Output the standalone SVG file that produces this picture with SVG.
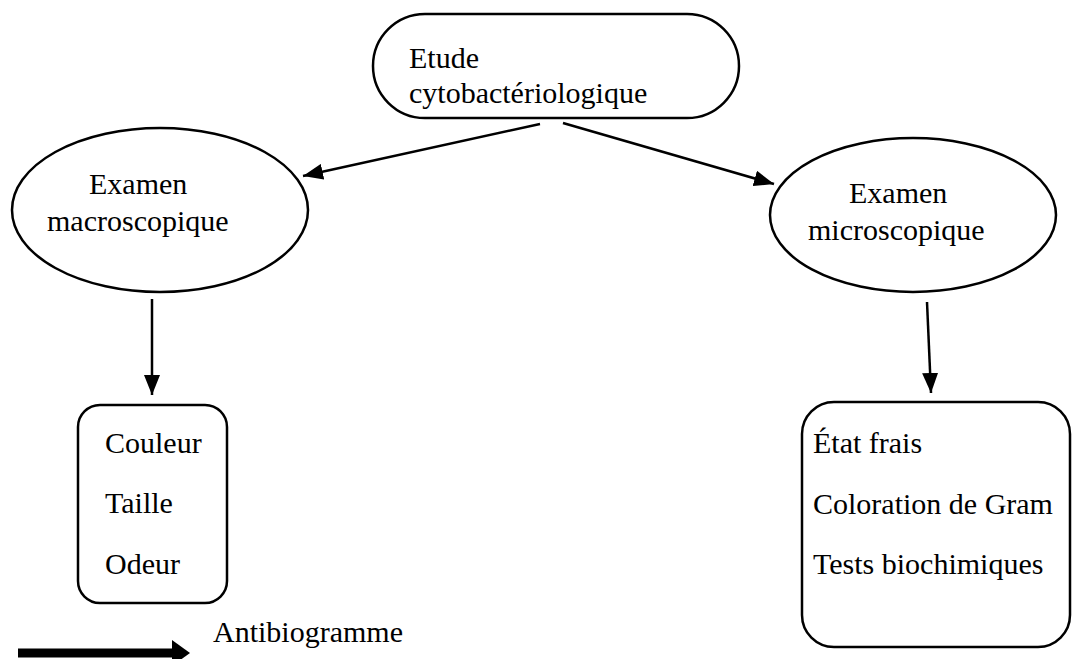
<svg xmlns="http://www.w3.org/2000/svg" width="1072" height="659" viewBox="0 0 1072 659">
<style>
.s{fill:#fff;stroke:#000;stroke-width:2.5}
.t{font-family:"Liberation Serif","Times New Roman",serif;font-size:30px;fill:#000}
.c{stroke:#000;stroke-width:2.5;fill:none}
</style>
<defs>
<marker id="ah" viewBox="0 0 10 10" refX="10" refY="5" markerWidth="7" markerHeight="7" markerUnits="userSpaceOnUse" orient="auto">
<path d="M0,0 L10,5 L0,10 Z" fill="#000"/>
</marker>
<marker id="a" viewBox="0 0 20 16" refX="20" refY="8" markerWidth="20" markerHeight="16" markerUnits="userSpaceOnUse" orient="auto">
<path d="M0,0 L20,8 L0,16 Z" fill="#000"/>
</marker>
</defs>
<rect width="1072" height="659" fill="#fff"/>
<g id="connectors">
<line class="c" x1="540" y1="124" x2="303" y2="176" marker-end="url(#a)"/>
<line class="c" x1="563" y1="123" x2="774" y2="184" marker-end="url(#a)"/>
<line class="c" x1="152" y1="299" x2="152" y2="395" marker-end="url(#a)"/>
<line class="c" x1="927" y1="302" x2="931" y2="393" marker-end="url(#a)"/>
</g>
<g id="etude">
<rect class="s" x="373" y="14" width="366" height="104" rx="52" ry="52"/>
<text class="t" x="409" y="68">Etude</text>
<text class="t" x="409" y="103">cytobactériologique</text>
</g>
<g id="macro">
<ellipse class="s" cx="160" cy="210" rx="148" ry="82"/>
<text class="t" x="89" y="194">Examen</text>
<text class="t" x="47" y="231">macroscopique</text>
</g>
<g id="micro">
<ellipse class="s" cx="913" cy="215" rx="143" ry="77"/>
<text class="t" x="849" y="203">Examen</text>
<text class="t" x="808" y="240">microscopique</text>
</g>
<g id="macro-list">
<rect class="s" x="78" y="405" width="149" height="198" rx="22" ry="22"/>
<text class="t" x="105" y="453">Couleur</text>
<text class="t" x="105" y="513">Taille</text>
<text class="t" x="105" y="574">Odeur</text>
</g>
<g id="micro-list">
<rect class="s" x="802" y="402" width="268" height="245" rx="32" ry="32"/>
<text class="t" x="813" y="453">État frais</text>
<text class="t" x="813" y="514">Coloration de Gram</text>
<text class="t" x="813" y="574">Tests biochimiques</text>
</g>
<g id="legend">
<line x1="18" y1="653" x2="175" y2="653" stroke="#000" stroke-width="9"/>
<path d="M172,640 L190,653 L172,666 Z" fill="#000"/>
<text class="t" x="213" y="642">Antibiogramme</text>
</g>
</svg>
